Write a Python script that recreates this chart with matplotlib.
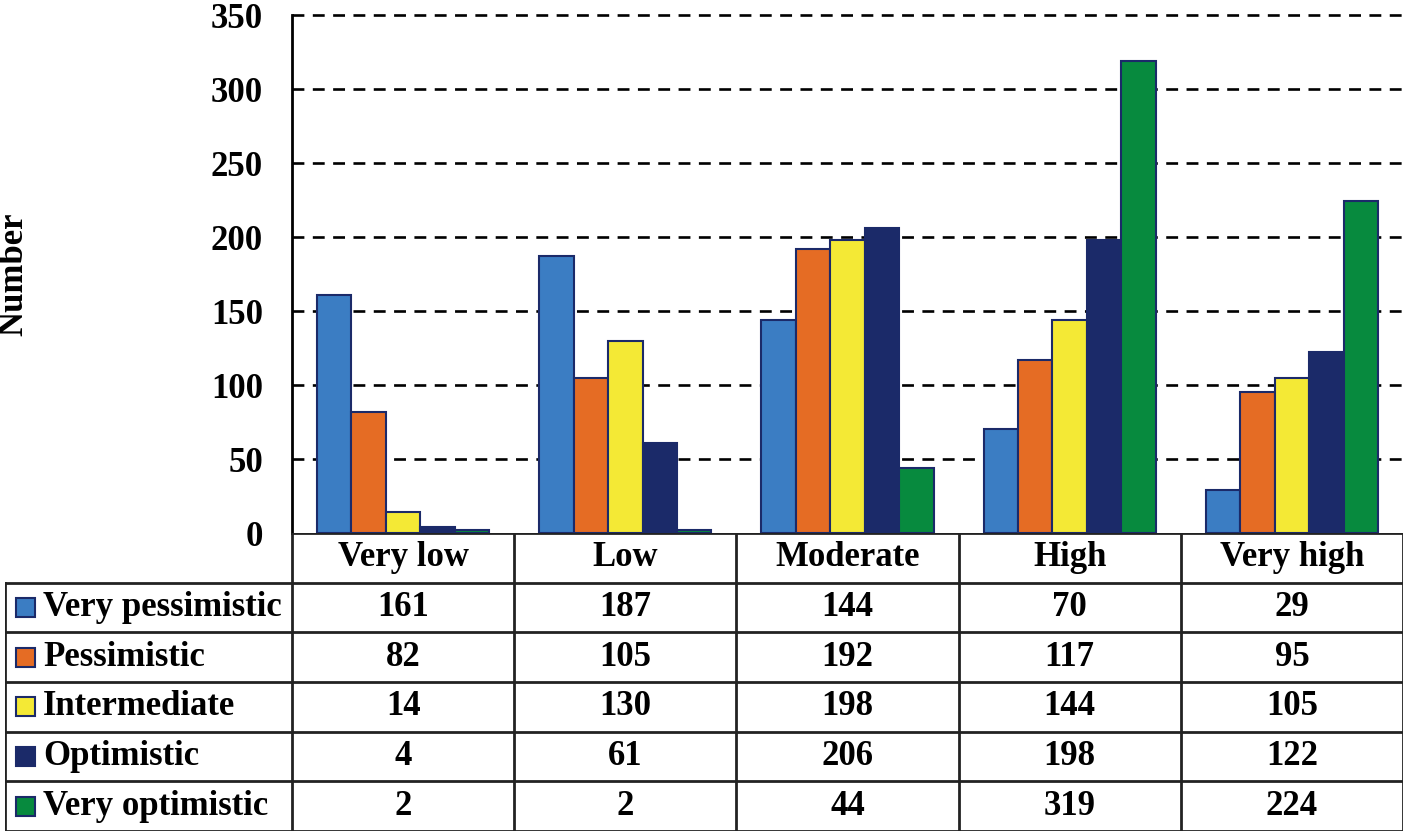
import numpy as np
import matplotlib.pyplot as plt
from matplotlib.patches import Rectangle

categories = ["Very low", "Low", "Moderate", "High", "Very high"]
series = ["Very pessimistic", "Pessimistic", "Intermediate", "Optimistic", "Very optimistic"]
very_pessimistic = [161, 187, 144, 70, 29]
pessimistic = [82, 105, 192, 117, 95]
intermediate = [14, 130, 198, 144, 105]
optimistic = [4, 61, 206, 198, 122]
very_optimistic = [2, 2, 44, 319, 224]
values = [very_pessimistic, pessimistic, intermediate, optimistic, very_optimistic]
colors = ["#3b7dc3", "#e56c24", "#f4e935", "#1b2a69", "#078a3e"]
yticks = [0, 50, 100, 150, 200, 250, 300, 350]

plt.rcParams['font.family'] = ['Liberation Serif', 'DejaVu Serif']
plt.rcParams['font.weight'] = 'bold'
FS = 25

W, H = 1408, 833
fig = plt.figure(figsize=(W / 100, H / 100), dpi=100)

# pixel layout
ax_l, ax_r, ax_t, ax_b = 292, 1403, 15, 533
tab_l, tab_b = 5, 831

ax = fig.add_axes([ax_l / W, 1 - ax_b / H, (ax_r - ax_l) / W, (ax_b - ax_t) / H])
x = np.arange(len(categories))
bw = 0.155
for i, (vals, c) in enumerate(zip(values, colors)):
    ax.bar(x + (i - 2) * bw, vals, bw, color=c, edgecolor="#1b2a69", linewidth=1.5, zorder=3)

ax.set_xlim(-0.5, 4.5)
ax.set_ylim(0, 350)
ax.set_yticks(yticks)
ax.set_yticklabels([str(t) for t in yticks], fontsize=FS, fontweight='bold')
ax.set_xticks([])
ax.tick_params(axis='y', length=0, pad=21)
for t in yticks[1:]:
    ax.axhline(t, color='black', linestyle=(0, (4.5, 3.2)), linewidth=1.9, zorder=1, clip_on=False)
for s in ['top', 'right', 'bottom']:
    ax.spines[s].set_visible(False)
ax.spines['left'].set_linewidth(2)
fig.text(14 / W, 1 - 274 / H, "Number", rotation=90, ha='center', va='center',
         fontsize=25, fontweight='bold')

# data table below
unit = (ax_r - ax_l) / len(categories)
x0 = -0.5 - (ax_l - tab_l) / unit
tab = fig.add_axes([tab_l / W, 1 - tab_b / H, (ax_r - tab_l) / W, (tab_b - ax_b) / H])
tab.set_xlim(x0, 4.5)
tab.set_ylim(6, 0)
tab.axis('off')

lw = 2
lc = '#222222'
# header row
tab.plot([-0.5, 4.5], [0, 0], color=lc, lw=lw, solid_capstyle='projecting')
for k in range(6):
    tab.plot([k - 0.5, k - 0.5], [0, 6], color=lc, lw=lw)
tab.plot([x0, x0], [1, 6], color=lc, lw=lw)
for r in range(1, 7):
    tab.plot([x0, 4.5], [r, r], color=lc, lw=lw)
for k, cat in enumerate(categories):
    tab.text(k, 0.5, cat, ha='center', va='center', fontsize=FS, fontweight='bold')

sq = 19 / unit
for r, (name, vals, c) in enumerate(zip(series, values, colors)):
    yc = r + 1.5
    tab.add_patch(Rectangle((x0 + 11 / unit, yc - 0.19), sq, 0.38,
                            facecolor=c, edgecolor='#1b2a69', lw=1.5))
    tab.text(x0 + 38 / unit, yc, name, ha='left', va='center', fontsize=FS, fontweight='bold')
    for k, v in enumerate(vals):
        tab.text(k, yc, str(v), ha='center', va='center', fontsize=FS, fontweight='bold')

fig.savefig("out.png", dpi=100)
